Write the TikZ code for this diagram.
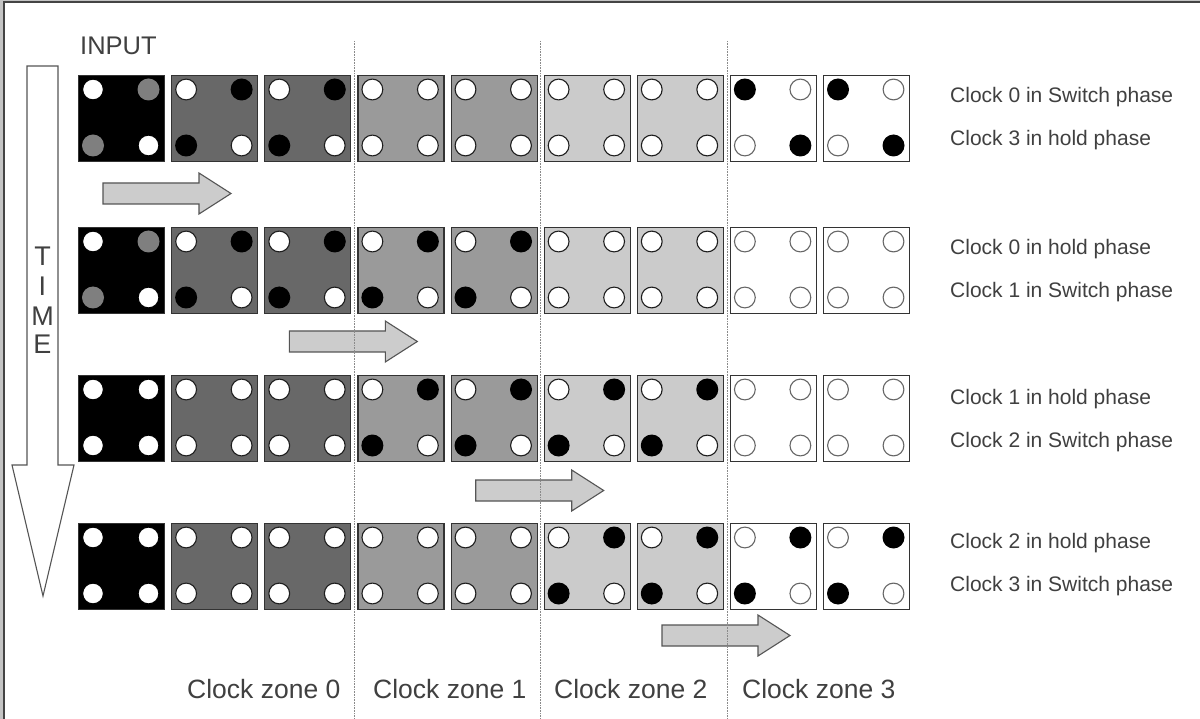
\documentclass[tikz,border=0pt]{standalone}
\usepackage{fontspec}
\setmainfont{Liberation Sans}
\definecolor{framelight}{HTML}{C4C4C4}
\definecolor{framedark}{HTML}{444444}
\definecolor{txt}{HTML}{404040}
\definecolor{cellborder}{HTML}{333333}
\definecolor{inputgray}{HTML}{7F7F7F}
\definecolor{arrowfill}{HTML}{CCCCCC}
\definecolor{arrowline}{HTML}{555555}
\definecolor{sepline}{HTML}{8A8A8A}
\colorlet{col0}{black}
\definecolor{col1}{HTML}{686868}
\definecolor{col2}{HTML}{686868}
\definecolor{col3}{HTML}{9A9A9A}
\definecolor{col4}{HTML}{9A9A9A}
\definecolor{col5}{HTML}{CBCBCB}
\definecolor{col6}{HTML}{CBCBCB}
\colorlet{col7}{white}
\colorlet{col8}{white}
\definecolor{lin0}{HTML}{000000}
\definecolor{lin1}{HTML}{1E1E1E}
\definecolor{lin2}{HTML}{1E1E1E}
\definecolor{lin3}{HTML}{1E1E1E}
\definecolor{lin4}{HTML}{1E1E1E}
\definecolor{lin5}{HTML}{1E1E1E}
\definecolor{lin6}{HTML}{1E1E1E}
\definecolor{lin7}{HTML}{666666}
\definecolor{lin8}{HTML}{666666}
\newcommand\celldot[4]{% #1 kind, #2 x, #3 y, #4 column
  \if#1w\draw[fill=white, draw=lin#4, line width=1.1pt] (#2,#3) circle[radius=10.4];\fi
  \if#1k\fill[black] (#2,#3) circle[radius=11];\fi
  \if#1g\fill[inputgray] (#2,#3) circle[radius=11];\fi}
\newcommand\blockarr[2]{%
  \draw[blockarrow] (#1,#2-10.5) -- ++(96,0) -- ++(0,-10) -- ++(32,20.5) -- ++(-32,20.5) -- ++(0,-10) -- ++(-96,0) -- cycle;}
\tikzset{
  cell/.style={draw=cellborder, line width=1.2pt, minimum width=86pt, minimum height=86pt, inner sep=0pt, anchor=north west},
  blockarrow/.style={fill=arrowfill, draw=arrowline, line width=1.1pt, line join=miter},
  sep/.style={draw=sepline, line width=1pt, dash pattern=on 1pt off 0.6pt},
  phase/.style={font=\fontsize{21}{24}\selectfont, text=txt, anchor=base west, inner sep=0pt},
  zone/.style={font=\fontsize{26.5}{30}\selectfont, text=txt, anchor=base west, inner sep=0pt},
  timeletter/.style={font=\fontsize{27}{30}\selectfont, text=txt, inner sep=0pt},
}
\begin{document}
\begin{tikzpicture}[x=1pt,y=-1pt]
\useasboundingbox (0,0) rectangle (1200,719);
\fill[white] (0,0) rectangle (1200,719);
% frame
\fill[framelight] (0,0) rectangle (3,719);
\fill[framelight] (0,0) rectangle (1200,1.4);
\draw[framedark, line width=1.6pt] (4,719) -- (4,2.3) -- (1200,2.3);

% time arrow
\draw[fill=white, draw=arrowline, line width=1.1pt, line join=miter]
  (27,66) -- (58,66) -- (58,465) -- (74,465) -- (43,596) -- (12,465) -- (27,465) -- cycle;
\node[timeletter] (tT) at (42.5,256) {T};
\node[timeletter] (tI) at (42.5,286) {I};
\node[timeletter] (tM) at (42.5,316) {M};
\node[timeletter] (tE) at (42.5,344) {E};

\node[font=\fontsize{25.5}{28}\selectfont, text=txt, anchor=base west, inner sep=0pt] (input) at (80,55) {INPUT};

% cells
\foreach \r/\y/\pats in {
  0/75/{w/g/g/w, w/k/k/w, w/k/k/w, w/w/w/w, w/w/w/w, w/w/w/w, w/w/w/w, k/w/w/k, k/w/w/k},
  1/227/{w/g/g/w, w/k/k/w, w/k/k/w, w/k/k/w, w/k/k/w, w/w/w/w, w/w/w/w, w/w/w/w, w/w/w/w},
  2/375/{w/w/w/w, w/w/w/w, w/w/w/w, w/k/k/w, w/k/k/w, w/k/k/w, w/k/k/w, w/w/w/w, w/w/w/w},
  3/523/{w/w/w/w, w/w/w/w, w/w/w/w, w/w/w/w, w/w/w/w, w/k/k/w, w/k/k/w, w/k/k/w, w/k/k/w}} {
  \foreach \a/\b/\c/\d [count=\i from 0] in \pats {
    \pgfmathsetmacro\cx{78+93.125*\i}
    \node[cell, fill=col\i] (c\r\i) at (\cx,\y) {};
    \celldot{\a}{\cx+15}{\y+14.5}{\i}
    \celldot{\b}{\cx+70.5}{\y+14.5}{\i}
    \celldot{\c}{\cx+15}{\y+70.5}{\i}
    \celldot{\d}{\cx+70.5}{\y+70.5}{\i}
  }
}

% shift arrows
\blockarr{103}{193.5}
\blockarr{289.3}{341.5}
\blockarr{475.7}{490.5}
\blockarr{662}{635.5}

% clock zone separators
\foreach \x in {354,540,727} \draw[sep] (\x,41) -- (\x,719);

% phase texts
\node[phase] (p0a) at (950,103) {Clock 0 in Switch phase};
\node[phase] (p0b) at (950,146) {Clock 3 in hold phase};
\node[phase] (p1a) at (950,255) {Clock 0 in hold phase};
\node[phase] (p1b) at (950,298) {Clock 1 in Switch phase};
\node[phase] (p2a) at (950,404) {Clock 1 in hold phase};
\node[phase] (p2b) at (950,447) {Clock 2 in Switch phase};
\node[phase] (p3a) at (950,548) {Clock 2 in hold phase};
\node[phase] (p3b) at (950,591) {Clock 3 in Switch phase};

% zone labels
\node[zone] (z0) at (187,698) {Clock zone 0};
\node[zone] (z1) at (373,698) {Clock zone 1};
\node[zone] (z2) at (554,698) {Clock zone 2};
\node[zone] (z3) at (742,698) {Clock zone 3};
\end{tikzpicture}
\end{document}
